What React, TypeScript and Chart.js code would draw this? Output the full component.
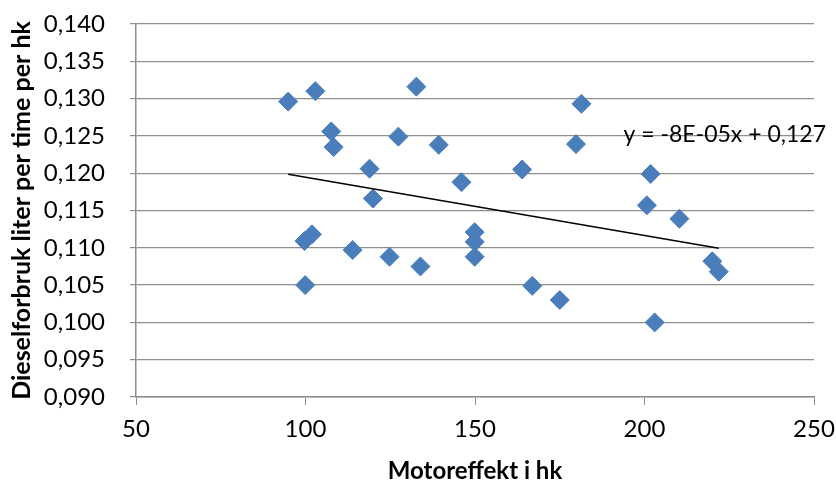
import React, { useEffect, useRef } from "react";
import { Chart, registerables } from "chart.js";

Chart.register(...registerables);

// Motoreffekt i hk
const hpValues: number[] = [
  94.9, 102.9, 107.6, 108.3, 118.9, 119.9, 99.7, 101.9, 99.9, 113.9,
  124.8, 127.4, 132.7, 133.9, 139.3, 146.0, 149.9, 149.9, 149.9, 163.9,
  166.9, 175.0, 181.4, 179.8, 201.8, 200.7, 210.3, 203.0, 220.0, 221.9,
];
// Dieselforbruk liter per time per hk
const fuelValues: number[] = [
  0.1296, 0.131, 0.1256, 0.1235, 0.1206, 0.1166, 0.1109, 0.1118, 0.105, 0.1097,
  0.1088, 0.1249, 0.1316, 0.1075, 0.1238, 0.1188, 0.1121, 0.1108, 0.1088, 0.1205,
  0.1049, 0.103, 0.1293, 0.1239, 0.1199, 0.1157, 0.1139, 0.1, 0.1082, 0.1068,
];

// Linear trendline coefficients (as shown in the label)
const trendSlope = -7.83e-5;
const trendIntercept = 0.1273;
const trendLabel = "y = -8E-05x + 0,127";
const trendLabelAt = { x: 193.8, y: 0.12414 };

const xTitle = "Motoreffekt i hk";
const yTitle = "Dieselforbruk liter per time per hk";

const xMin = 50, xMax = 250, xStep = 50;
const yMin = 0.09, yMax = 0.14, yStep = 0.005;

export default function App() {
  const canvasRef = useRef<HTMLCanvasElement | null>(null);

  useEffect(() => {
    document.body.style.margin = "0";
    const canvas = canvasRef.current;
    if (!canvas) return;

    const pts = hpValues.map((x, i) => ({ x, y: fuelValues[i] }));
    const tMin = Math.min(...hpValues);
    const tMax = Math.max(...hpValues);
    const trend = [
      { x: tMin, y: trendIntercept + trendSlope * tMin },
      { x: tMax, y: trendIntercept + trendSlope * tMax },
    ];

    const labelPlugin = {
      id: "trendLabel",
      afterDatasetsDraw(chart: any) {
        const { ctx, scales } = chart;
        ctx.save();
        ctx.font = "23px Lato";
        ctx.fillStyle = "#000000";
        ctx.textAlign = "left";
        ctx.textBaseline = "alphabetic";
        ctx.fillText(
          trendLabel,
          scales.x.getPixelForValue(trendLabelAt.x),
          scales.y.getPixelForValue(trendLabelAt.y)
        );
        ctx.restore();
      },
    };

    const chart = new Chart(canvas, {
      type: "scatter",
      data: {
        datasets: [
          {
            type: "line",
            label: "Trend",
            data: trend,
            borderColor: "#000000",
            borderWidth: 1.5,
            pointRadius: 0,
            fill: false,
            order: 0,
          } as any,
          {
            label: "Data",
            data: pts,
            pointStyle: "rectRot",
            pointRadius: 9.5,
            pointHoverRadius: 9.5,
            backgroundColor: "#4A7EBB",
            borderColor: "#4A7EBB",
            borderWidth: 1,
            order: 1,
          },
        ],
      },
      options: {
        responsive: false,
        animation: false,
        layout: { padding: { top: 24, right: 22, bottom: 0, left: 0 } },
        plugins: {
          legend: { display: false },
          tooltip: { enabled: false },
        },
        scales: {
          x: {
            type: "linear",
            min: xMin,
            max: xMax,
            ticks: {
              stepSize: xStep,
              font: { family: "Lato", size: 24 },
              color: "#000000",
              padding: 10,
              maxRotation: 0,
            },
            grid: {
              drawOnChartArea: false,
              drawTicks: true,
              tickLength: 8,
              color: "#8E8E8E",
              lineWidth: 1,
            },
            border: { display: true, color: "#8E8E8E", width: 1.5 },
            title: {
              display: true,
              text: xTitle,
              font: { family: "Lato", size: 24, weight: "bold", lineHeight: 1 },
              color: "#000000",
              padding: { top: 0, bottom: -1 },
            },
            afterFit(scale: any) {
              scale.height = 85;
              scale.paddingLeft = 0;
              scale.paddingRight = 0;
            },
          },
          y: {
            type: "linear",
            min: yMin,
            max: yMax,
            ticks: {
              stepSize: yStep,
              font: { family: "Lato", size: 24 },
              color: "#000000",
              padding: 25,
              callback: (v: any) => Number(v).toFixed(3).replace(".", ","),
            },
            grid: {
              drawOnChartArea: true,
              drawTicks: true,
              tickLength: 6,
              color: "#8E8E8E",
              lineWidth: 1.2,
            },
            border: { display: true, color: "#8E8E8E", width: 1.5 },
            title: {
              display: true,
              text: yTitle,
              font: { family: "Lato", size: 25, weight: "bold", lineHeight: 1 },
              color: "#000000",
              padding: { top: 9, bottom: 0 },
            },
            afterFit(scale: any) {
              scale.width = 136;
              scale.paddingTop = 0;
              scale.paddingBottom = 0;
            },
          },
        },
      },
      plugins: [labelPlugin],
    });

    return () => chart.destroy();
  }, []);

  return (
    <div style={{ position: "fixed", left: 0, top: 0, width: 836, height: 482, background: "#ffffff" }}>
      <canvas ref={canvasRef} width={836} height={482} />
    </div>
  );
}
